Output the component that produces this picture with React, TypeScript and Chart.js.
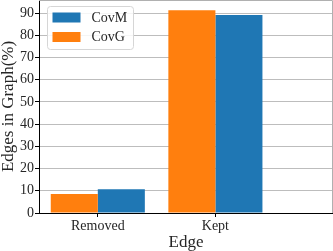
import React, { useEffect, useRef } from 'react';
import { Chart, registerables } from 'chart.js';
Chart.register(...registerables);

const categories = ['Removed', 'Kept'];
const seriesNames = ['CovG', 'CovM'];
const covG = [8.5, 91.3];
const covM = [10.7, 89.2];
const yTicks = [0, 10, 20, 30, 40, 50, 60, 70, 80, 90];
const colors = ['#ff7f0e', '#1f77b4'];

const FONT = "'Liberation Serif', 'Times New Roman', serif";
const TEXT = '#262626';

const frameAndLegend = {
  id: 'frameAndLegend',
  afterDraw(chart: any) {
    const { ctx, chartArea: a } = chart;
    ctx.save();
    // top & right spines (grey)
    ctx.strokeStyle = '#b0b0b0';
    ctx.lineWidth = 1;
    ctx.beginPath();
    ctx.moveTo(a.left, a.top + 0.5);
    ctx.lineTo(a.right - 0.5, a.top + 0.5);
    ctx.lineTo(a.right - 0.5, a.bottom);
    ctx.stroke();
    // legend box
    const bx = a.left + 8.5, by = a.top + 6.5, bw = 86, bh = 43, r = 3;
    ctx.beginPath();
    ctx.moveTo(bx + r, by);
    ctx.lineTo(bx + bw - r, by);
    ctx.quadraticCurveTo(bx + bw, by, bx + bw, by + r);
    ctx.lineTo(bx + bw, by + bh - r);
    ctx.quadraticCurveTo(bx + bw, by + bh, bx + bw - r, by + bh);
    ctx.lineTo(bx + r, by + bh);
    ctx.quadraticCurveTo(bx, by + bh, bx, by + bh - r);
    ctx.lineTo(bx, by + r);
    ctx.quadraticCurveTo(bx, by, bx + r, by);
    ctx.closePath();
    ctx.fillStyle = 'rgba(255,255,255,0.85)';
    ctx.fill();
    ctx.strokeStyle = '#d6d6d6';
    ctx.stroke();
    const ds = chart.data.datasets;
    const order = ds.map((_: any, i: number) => i).reverse();
    ctx.font = `14px ${FONT}`;
    ctx.textBaseline = 'middle';
    ctx.textAlign = 'left';
    order.forEach((di: number, k: number) => {
      const y = by + 6 + k * 19.5;
      ctx.fillStyle = ds[di].backgroundColor;
      ctx.fillRect(bx + 5, y, 28, 10);
      ctx.fillStyle = TEXT;
      ctx.fillText(ds[di].label, bx + 44, y + 5.5);
    });
    ctx.restore();
  },
};

export default function App() {
  const ref = useRef<HTMLCanvasElement>(null);
  useEffect(() => {
    if (!ref.current) return;
    const chart = new Chart(ref.current, {
      type: 'bar',
      data: {
        datasets: [
          {
            label: seriesNames[0],
            data: covG.map((v, i) => ({ x: i, y: v })),
            backgroundColor: colors[0],
          },
          {
            label: seriesNames[1],
            data: covM.map((v, i) => ({ x: i, y: v })),
            backgroundColor: colors[1],
          },
        ],
      } as any,
      options: {
        animation: false,
        responsive: false,
        devicePixelRatio: 1,
        layout: { padding: { top: 0, right: 0, left: 0, bottom: 0 } },
        datasets: { bar: { categoryPercentage: 0.8, barPercentage: 1.0 } },
        plugins: { legend: { display: false }, tooltip: { enabled: false } },
        scales: {
          x: {
            type: 'linear',
            min: -0.5,
            max: 2.0,
            offset: false,
            afterBuildTicks: (s: any) => {
              s.ticks = categories.map((_, i) => ({ value: i }));
            },
            afterFit: (s: any) => {
              s.height = 38;
              s.paddingLeft = 0;
              s.paddingRight = 0;
            },
            ticks: {
              callback: (v: any) => categories[v as number] ?? '',
              font: { family: FONT, size: 14 },
              color: TEXT,
              padding: 1,
              maxRotation: 0,
            },
            grid: { offset: false, drawOnChartArea: false, tickLength: 4, tickColor: '#000' },
            border: { color: '#000', width: 1 },
            title: {
              display: true,
              text: 'Edge',
              font: { family: FONT, size: 17, lineHeight: 1 },
              color: TEXT,
              padding: 0,
            },
          },
          y: {
            min: 0,
            max: 95.9,
            afterBuildTicks: (s: any) => {
              s.ticks = yTicks.map((v) => ({ value: v }));
            },
            afterFit: (s: any) => {
              s.width = 39;
              s.paddingTop = 0;
              s.paddingBottom = 0;
            },
            ticks: {
              font: { family: FONT, size: 14 },
              color: TEXT,
              padding: 1,
            },
            grid: { color: '#bdbdbd', tickLength: 4, tickColor: '#000' },
            border: { color: '#000', width: 1 },
            title: {
              display: true,
              text: 'Edges in Graph(%)',
              font: { family: FONT, size: 17, lineHeight: 1 },
              color: TEXT,
              padding: 0,
            },
          },
        },
      } as any,
      plugins: [frameAndLegend],
    });
    return () => chart.destroy();
  }, []);
  return (
    <div style={{ position: 'fixed', left: 0, top: 0, width: 333, height: 251, background: '#fff' }}>
      <canvas ref={ref} width={333} height={251} />
    </div>
  );
}
